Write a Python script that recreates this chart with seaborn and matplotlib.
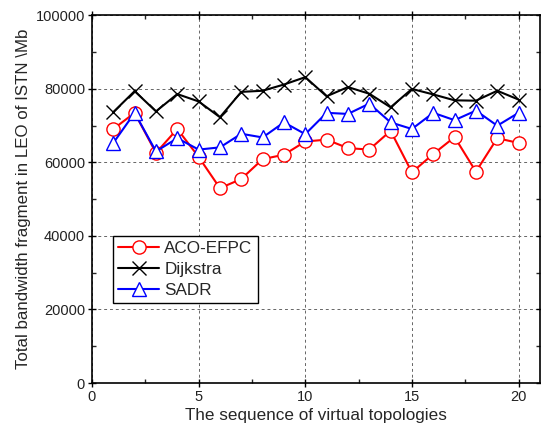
import numpy as np
import pandas as pd
import matplotlib
matplotlib.use("Agg")
import matplotlib.pyplot as plt
import seaborn as sns
from matplotlib.ticker import MultipleLocator

topology = list(range(1, 21))
aco_efpc = [69.1, 73.5, 62.6, 69.1, 61.5, 53.0, 55.5, 60.9, 62.1, 65.7,
            66.2, 63.9, 63.5, 68.6, 57.3, 62.3, 66.9, 57.5, 66.6, 65.3]
dijkstra = [73.7, 79.4, 73.9, 78.6, 76.6, 72.3, 79.2, 79.5, 81.2, 83.2,
            78.0, 80.5, 78.7, 75.0, 80.0, 78.5, 76.9, 76.8, 79.5, 77.1]
sadr = [65.3, 73.5, 63.0, 66.6, 63.5, 64.1, 67.8, 66.8, 70.9, 67.7,
        73.5, 73.2, 76.0, 70.9, 69.1, 73.5, 71.5, 74.1, 70.0, 73.5]

series = {"ACO-EFPC": aco_efpc, "Dijkstra": dijkstra, "SADR": sadr}
df = pd.concat(
    [pd.DataFrame({"topology": topology, "value": np.array(v) * 1000, "method": k})
     for k, v in series.items()],
    ignore_index=True,
)

sns.set_theme(style="white")
plt.rcParams["font.family"] = ["Liberation Sans", "DejaVu Sans"]

fig = plt.figure(figsize=(5.41, 4.34), dpi=100)
ax = fig.add_axes([0.170, 0.1175, 0.828, 0.847])

styles = {
    "ACO-EFPC": dict(color="#ff0000", marker="o", mfc="white", mec="#ff0000"),
    "Dijkstra": dict(color="#000000", marker="x", mfc="none", mec="#000000"),
    "SADR": dict(color="#0000ff", marker="^", mfc="white", mec="#0000ff"),
}
for name, st in styles.items():
    sub = df[df["method"] == name]
    sns.lineplot(data=sub, x="topology", y="value", ax=ax, label=name,
                 color=st["color"], marker=st["marker"], markersize=9.5,
                 markerfacecolor=st["mfc"], markeredgecolor=st["mec"],
                 markeredgewidth=1.0, linewidth=1.5)

ax.set_xlim(0, 21)
ax.set_ylim(0, 100000)
ax.xaxis.set_major_locator(MultipleLocator(5))
ax.xaxis.set_minor_locator(MultipleLocator(2.5))
ax.yaxis.set_major_locator(MultipleLocator(20000))
ax.yaxis.set_minor_locator(MultipleLocator(10000))
ax.grid(True, which="major", linestyle=(0, (3, 3)), color="#666666", linewidth=0.7)

for s in ax.spines.values():
    s.set_color("black")
    s.set_linewidth(1.2)

ax.tick_params(which="major", direction="inout", length=6, width=1.0,
               labelsize=10.5, colors="black", top=True, right=True,
               bottom=True, left=True, pad=2)
ax.tick_params(which="minor", direction="in", length=3, width=1.0,
               top=True, right=True, bottom=True, left=True)
ax.tick_params(axis="both", which="both", labelcolor="#222222")

ax.set_xlabel("The sequence of virtual topologies", fontsize=12.3, labelpad=3)
ax.set_ylabel("Total bandwidth fragment in LEO of ISTN \\Mb", fontsize=12.2, labelpad=3)

leg = ax.legend(loc="lower left", bbox_to_anchor=(0.047, 0.217), fontsize=12.3,
                frameon=True, fancybox=False, edgecolor="black", framealpha=1,
                handlelength=2.4, handletextpad=0.3, borderpad=0.3,
                labelspacing=0.35, borderaxespad=0)
leg.get_frame().set_linewidth(1.0)

fig.savefig("out.png", dpi=100)
